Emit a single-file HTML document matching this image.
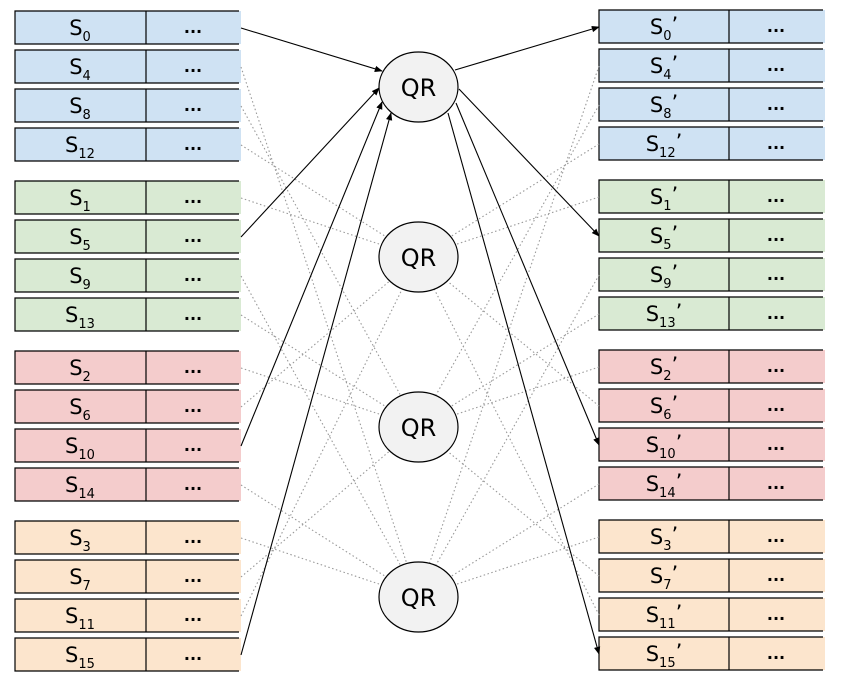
<!DOCTYPE html>
<html><head><meta charset="utf-8"><style>
html,body{margin:0;padding:0;background:#fff;}
svg{display:block;}
text{font-family:"DejaVu Sans","Liberation Sans",sans-serif;fill:#000;}
</style></head><body>
<svg width="841" height="684" viewBox="0 0 841 684" xmlns="http://www.w3.org/2000/svg">
<defs>
<marker id="a" viewBox="0 0 10 10" refX="9" refY="5" markerWidth="8" markerHeight="8" markerUnits="userSpaceOnUse" orient="auto"><path d="M0,1 L10,5 L0,9 z" fill="#000"/></marker>
</defs>
<g stroke="#000" stroke-width="1.2">
<rect x="15" y="11" width="226" height="33" fill="#cfe2f3" stroke="none"/><rect x="15" y="50" width="226" height="33" fill="#cfe2f3" stroke="none"/><rect x="15" y="89" width="226" height="33" fill="#cfe2f3" stroke="none"/><rect x="15" y="128" width="226" height="33" fill="#cfe2f3" stroke="none"/>
<rect x="15" y="181" width="226" height="33" fill="#d9ead3" stroke="none"/><rect x="15" y="220" width="226" height="33" fill="#d9ead3" stroke="none"/><rect x="15" y="259" width="226" height="33" fill="#d9ead3" stroke="none"/><rect x="15" y="298" width="226" height="33" fill="#d9ead3" stroke="none"/>
<rect x="15" y="351" width="226" height="33" fill="#f4cccc" stroke="none"/><rect x="15" y="390" width="226" height="33" fill="#f4cccc" stroke="none"/><rect x="15" y="429" width="226" height="33" fill="#f4cccc" stroke="none"/><rect x="15" y="468" width="226" height="33" fill="#f4cccc" stroke="none"/>
<rect x="15" y="521" width="226" height="33" fill="#fce5cd" stroke="none"/><rect x="15" y="560" width="226" height="33" fill="#fce5cd" stroke="none"/><rect x="15" y="599" width="226" height="33" fill="#fce5cd" stroke="none"/><rect x="15" y="638" width="226" height="33" fill="#fce5cd" stroke="none"/>
<path fill="none" d="M239,11H15V44H239M146,11V44 M239,50H15V83H239M146,50V83 M239,89H15V122H239M146,89V122 M239,128H15V161H239M146,128V161
M239,181H15V214H239M146,181V214 M239,220H15V253H239M146,220V253 M239,259H15V292H239M146,259V292 M239,298H15V331H239M146,298V331
M239,351H15V384H239M146,351V384 M239,390H15V423H239M146,390V423 M239,429H15V462H239M146,429V462 M239,468H15V501H239M146,468V501
M239,521H15V554H239M146,521V554 M239,560H15V593H239M146,560V593 M239,599H15V632H239M146,599V632 M239,638H15V671H239M146,638V671"/>
</g>
<g stroke="#000" stroke-width="1.2">
<rect x="599" y="10" width="226" height="33" fill="#cfe2f3" stroke="none"/><rect x="599" y="49" width="226" height="33" fill="#cfe2f3" stroke="none"/><rect x="599" y="88" width="226" height="33" fill="#cfe2f3" stroke="none"/><rect x="599" y="127" width="226" height="33" fill="#cfe2f3" stroke="none"/>
<rect x="599" y="180" width="226" height="33" fill="#d9ead3" stroke="none"/><rect x="599" y="219" width="226" height="33" fill="#d9ead3" stroke="none"/><rect x="599" y="258" width="226" height="33" fill="#d9ead3" stroke="none"/><rect x="599" y="297" width="226" height="33" fill="#d9ead3" stroke="none"/>
<rect x="599" y="350" width="226" height="33" fill="#f4cccc" stroke="none"/><rect x="599" y="389" width="226" height="33" fill="#f4cccc" stroke="none"/><rect x="599" y="428" width="226" height="33" fill="#f4cccc" stroke="none"/><rect x="599" y="467" width="226" height="33" fill="#f4cccc" stroke="none"/>
<rect x="599" y="520" width="226" height="33" fill="#fce5cd" stroke="none"/><rect x="599" y="559" width="226" height="33" fill="#fce5cd" stroke="none"/><rect x="599" y="598" width="226" height="33" fill="#fce5cd" stroke="none"/><rect x="599" y="637" width="226" height="33" fill="#fce5cd" stroke="none"/>
<path fill="none" d="M823,10H599V43H823M729,10V43 M823,49H599V82H823M729,49V82 M823,88H599V121H823M729,88V121 M823,127H599V160H823M729,127V160
M823,180H599V213H823M729,180V213 M823,219H599V252H823M729,219V252 M823,258H599V291H823M729,258V291 M823,297H599V330H823M729,297V330
M823,350H599V383H823M729,350V383 M823,389H599V422H823M729,389V422 M823,428H599V461H823M729,428V461 M823,467H599V500H823M729,467V500
M823,520H599V553H823M729,520V553 M823,559H599V592H823M729,559V592 M823,598H599V631H823M729,598V631 M823,637H599V670H823M729,637V670"/>
</g>
<g stroke="#999" stroke-width="1.1" stroke-dasharray="1.5,2.5" fill="none">
<path d="M241,198L418,257 M241,368L418,427 M241,538L418,597 M241,67L418,597 M241,407L418,257 M241,577L418,427 M241,106L418,427 M241,276L418,597 M241,616L418,257 M241,145L418,257 M241,315L418,427 M241,485L418,597"/>
<path d="M599,197L418,257 M599,367L418,427 M599,537L418,597 M599,66L418,597 M599,406L418,257 M599,576L418,427 M599,105L418,427 M599,275L418,597 M599,615L418,257 M599,144L418,257 M599,314L418,427 M599,484L418,597"/>
</g>
<g fill="#f2f2f2" stroke="#000" stroke-width="1.2">
<ellipse cx="418.5" cy="87" rx="39.5" ry="35"/>
<ellipse cx="418.5" cy="257" rx="39.5" ry="35"/>
<ellipse cx="418.5" cy="427" rx="39.5" ry="35"/>
<ellipse cx="418.5" cy="597" rx="39.5" ry="35"/>
</g>
<g font-size="24" text-anchor="middle">
<text x="418.5" y="96">QR</text><text x="418.5" y="266">QR</text><text x="418.5" y="436">QR</text><text x="418.5" y="606">QR</text>
</g>
<g stroke="#000" stroke-width="1.1" fill="none" marker-end="url(#a)">
<path d="M241,28L382,71"/><path d="M241,237L379,88"/><path d="M241,446L382,102"/><path d="M241,655L391,113"/>
<path d="M455,70L599,27"/><path d="M459,89L599,236"/><path d="M456,103L599,445"/><path d="M448,113L599,654"/>
</g>
<g font-size="21" text-anchor="middle">
<text x="80" y="35">S<tspan font-size="13" dy="6">0</tspan></text>
<text x="80" y="74">S<tspan font-size="13" dy="6">4</tspan></text>
<text x="80" y="113">S<tspan font-size="13" dy="6">8</tspan></text>
<text x="80" y="152">S<tspan font-size="13" dy="6">12</tspan></text>
<text x="80" y="205">S<tspan font-size="13" dy="6">1</tspan></text>
<text x="80" y="244">S<tspan font-size="13" dy="6">5</tspan></text>
<text x="80" y="283">S<tspan font-size="13" dy="6">9</tspan></text>
<text x="80" y="322">S<tspan font-size="13" dy="6">13</tspan></text>
<text x="80" y="375">S<tspan font-size="13" dy="6">2</tspan></text>
<text x="80" y="414">S<tspan font-size="13" dy="6">6</tspan></text>
<text x="80" y="453">S<tspan font-size="13" dy="6">10</tspan></text>
<text x="80" y="492">S<tspan font-size="13" dy="6">14</tspan></text>
<text x="80" y="545">S<tspan font-size="13" dy="6">3</tspan></text>
<text x="80" y="584">S<tspan font-size="13" dy="6">7</tspan></text>
<text x="80" y="623">S<tspan font-size="13" dy="6">11</tspan></text>
<text x="80" y="662">S<tspan font-size="13" dy="6">15</tspan></text>
</g>
<g font-size="21" text-anchor="middle">
<text x="664" y="34">S<tspan font-size="13" dy="6">0</tspan><tspan dy="-8">’</tspan></text>
<text x="664" y="73">S<tspan font-size="13" dy="6">4</tspan><tspan dy="-8">’</tspan></text>
<text x="664" y="112">S<tspan font-size="13" dy="6">8</tspan><tspan dy="-8">’</tspan></text>
<text x="664" y="151">S<tspan font-size="13" dy="6">12</tspan><tspan dy="-8">’</tspan></text>
<text x="664" y="204">S<tspan font-size="13" dy="6">1</tspan><tspan dy="-8">’</tspan></text>
<text x="664" y="243">S<tspan font-size="13" dy="6">5</tspan><tspan dy="-8">’</tspan></text>
<text x="664" y="282">S<tspan font-size="13" dy="6">9</tspan><tspan dy="-8">’</tspan></text>
<text x="664" y="321">S<tspan font-size="13" dy="6">13</tspan><tspan dy="-8">’</tspan></text>
<text x="664" y="374">S<tspan font-size="13" dy="6">2</tspan><tspan dy="-8">’</tspan></text>
<text x="664" y="413">S<tspan font-size="13" dy="6">6</tspan><tspan dy="-8">’</tspan></text>
<text x="664" y="452">S<tspan font-size="13" dy="6">10</tspan><tspan dy="-8">’</tspan></text>
<text x="664" y="491">S<tspan font-size="13" dy="6">14</tspan><tspan dy="-8">’</tspan></text>
<text x="664" y="544">S<tspan font-size="13" dy="6">3</tspan><tspan dy="-8">’</tspan></text>
<text x="664" y="583">S<tspan font-size="13" dy="6">7</tspan><tspan dy="-8">’</tspan></text>
<text x="664" y="622">S<tspan font-size="13" dy="6">11</tspan><tspan dy="-8">’</tspan></text>
<text x="664" y="661">S<tspan font-size="13" dy="6">15</tspan><tspan dy="-8">’</tspan></text>
</g>
<g font-size="16" font-weight="bold" text-anchor="middle">
<text x="193" y="37">···</text><text x="193" y="76">···</text><text x="193" y="115">···</text><text x="193" y="154">···</text>
<text x="193" y="207">···</text><text x="193" y="246">···</text><text x="193" y="285">···</text><text x="193" y="324">···</text>
<text x="193" y="377">···</text><text x="193" y="416">···</text><text x="193" y="455">···</text><text x="193" y="494">···</text>
<text x="193" y="547">···</text><text x="193" y="586">···</text><text x="193" y="625">···</text><text x="193" y="664">···</text>
<text x="776" y="36">···</text><text x="776" y="75">···</text><text x="776" y="114">···</text><text x="776" y="153">···</text>
<text x="776" y="206">···</text><text x="776" y="245">···</text><text x="776" y="284">···</text><text x="776" y="323">···</text>
<text x="776" y="376">···</text><text x="776" y="415">···</text><text x="776" y="454">···</text><text x="776" y="493">···</text>
<text x="776" y="546">···</text><text x="776" y="585">···</text><text x="776" y="624">···</text><text x="776" y="663">···</text>
</g>
</svg>
</body></html>
